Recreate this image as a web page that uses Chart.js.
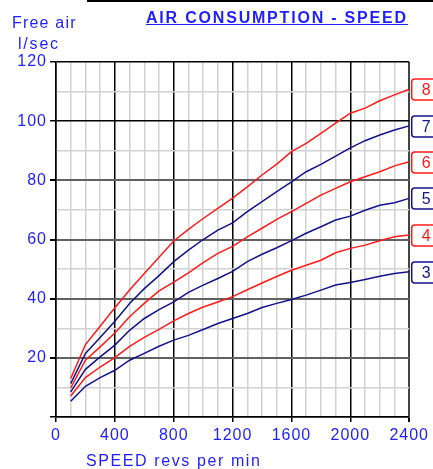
<!DOCTYPE html>
<html>
<head>
<meta charset="utf-8">
<title>Air consumption - speed</title>
<script src="https://cdn.jsdelivr.net/npm/chart.js@4"></script>
<style>
  html, body { margin: 0; padding: 0; background: #fff; }
  #wrap { position: relative; width: 433px; height: 469px; overflow: hidden; font-family: "Liberation Sans", Arial, sans-serif; }
  #wrap canvas { position: absolute; left: 0; top: 0; }
  .txt { position: absolute; color: #1e1eff; font-size: 16px; line-height: 19px; letter-spacing: 1px; white-space: nowrap; }
  .title { font-weight: bold; letter-spacing: 1.8px; text-decoration: underline; }
  .topline { position: absolute; left: 87px; top: 0; width: 346px; height: 2px; background: #000; }
</style>
</head>
<body>
<div id="wrap">
  <canvas id="airChart" width="433" height="469"></canvas>
  <div class="topline"></div>
  <div class="txt title" style="left:146px; top:8px;">AIR CONSUMPTION - SPEED</div>
  <div class="txt" style="left:12px; top:13px; letter-spacing:1.2px;">Free air</div>
  <div class="txt" style="left:18px; top:34px; letter-spacing:1.8px;">l/sec</div>
  <div class="txt" style="left:86px; top:451px; letter-spacing:1.6px;">SPEED revs per min</div>
</div>
<script>
// ── Data ──
const speeds = [100,200,300,400,500,600,700,800,900,1000,1100,1200,1300,1400,1500,1600,1700,1800,1900,2000,2100,2200,2300,2400];
const curveLabels = ['8','7','6','5','4','3'];
const curve8 = [13.0,24.5,30.7,36.9,42.9,48.5,54.0,59.5,63.4,67.1,70.5,74.0,77.8,81.8,85.5,89.7,92.5,95.9,99.3,102.7,104.4,106.9,108.9,110.8];
const curve7 = [11.3,21.5,26.9,32.4,38.4,43.4,47.8,52.5,56.4,60.0,63.2,65.6,69.4,72.8,76.2,79.5,82.9,85.4,88.2,91.0,93.4,95.3,97.0,98.4];
const curve6 = [9.8,19.2,23.7,28.4,33.9,38.4,42.6,45.6,48.7,52.2,55.3,57.7,60.9,63.8,66.8,69.4,72.2,75.0,77.3,79.5,81.2,82.9,84.9,86.3];
const curve5 = [8.5,16.1,20.3,24.3,29.3,33.3,36.3,38.9,42.1,44.6,46.8,49.2,52.5,55.0,57.2,59.6,62.1,64.3,66.6,67.9,69.9,71.6,72.4,73.9];
const curve4 = [7.1,13.3,16.9,20.1,23.9,26.9,29.6,32.5,35.0,37.2,38.9,40.7,43.0,45.3,47.5,49.6,51.3,53.0,55.5,57.0,58.1,59.6,60.9,61.5];
const curve3 = [5.3,10.4,13.3,15.8,19.2,21.5,23.9,26.0,27.6,29.6,31.6,33.3,35.0,37.0,38.4,39.7,41.2,42.9,44.6,45.5,46.5,47.6,48.5,49.1];
const xTicks = [0,400,800,1200,1600,2000,2400];
const yTicks = [20,40,60,80,100,120];

const RED = '#ff1a1a', NAVY = '#12128c', BLUE = '#1e1eff';
const curves = [curve8, curve7, curve6, curve5, curve4, curve3];
const colors = [RED, NAVY, RED, NAVY, RED, NAVY];

const toPoints = arr => arr.map((v, i) => ({ x: speeds[i], y: v }));

// letter spacing for canvas text (ticks + labels)
const spacing = {
  id: 'spacing',
  beforeUpdate(chart) { chart.ctx.letterSpacing = '1px'; },
  beforeDraw(chart) { chart.ctx.letterSpacing = '1px'; }
};

// numbered boxes at the end of each curve
const endLabels = {
  id: 'endLabels',
  afterDraw(chart) {
    const ctx = chart.ctx;
    const area = chart.chartArea;
    ctx.save();
    ctx.font = '16px "Liberation Sans", Arial, sans-serif';
    ctx.textBaseline = 'middle';
    ctx.textAlign = 'left';
    chart.data.datasets.forEach((ds, i) => {
      const meta = chart.getDatasetMeta(i);
      const last = meta.data[meta.data.length - 1];
      const x = area.right + 2.5, y = Math.round(last.y) + 0.5;
      ctx.beginPath();
      ctx.roundRect(x, y - 10.5, 30, 21, 3);
      ctx.fillStyle = '#fff';
      ctx.fill();
      ctx.lineWidth = 1.5;
      ctx.strokeStyle = ds.borderColor;
      ctx.stroke();
      ctx.fillStyle = ds.borderColor;
      ctx.fillText(ds.label, x + 10, y + 1);
    });
    ctx.restore();
  }
};

function initChart() {
  const canvas = document.getElementById('airChart');
  new Chart(canvas.getContext('2d'), {
    type: 'line',
    data: {
      datasets: curves.map((c, i) => ({
        label: curveLabels[i],
        data: toPoints(c),
        borderColor: colors[i],
        borderWidth: 1.5,
        pointRadius: 0,
        tension: 0,
        fill: false
      }))
    },
    options: {
      responsive: false,
      animation: false,
      layout: { padding: { top: 62, right: 22, left: 0, bottom: 0 } },
      plugins: { legend: { display: false }, tooltip: { enabled: false } },
      scales: {
        x: {
          type: 'linear', min: 0, max: 2400,
          afterFit: s => { s.height = 52; },
          afterBuildTicks: s => { s.ticks = [0].concat(speeds).map(v => ({ value: v })); },
          border: { color: '#000', width: 1.5 },
          grid: {
            tickLength: 5,
            color: c => c.tick.value === 2400 ? '#444' : (xTicks.includes(c.tick.value) ? '#000' : '#d2d2d2'),
            lineWidth: c => c.tick.value === 2400 ? 2 : 1.5,
            tickColor: c => xTicks.includes(c.tick.value) ? '#000' : 'rgba(0,0,0,0)'
          },
          ticks: {
            autoSkip: false, maxRotation: 0, padding: 4, color: BLUE,
            font: { family: '"Liberation Sans", Arial, sans-serif', size: 16 },
            callback: v => xTicks.includes(v) ? String(v) : ''
          }
        },
        y: {
          min: 0, max: 120,
          afterFit: s => { s.width = 56; },
          border: { color: '#000', width: 1.5 },
          grid: {
            tickLength: 6,
            color: c => {
              const v = c.tick.value;
              if (v === 100 || v === 120 || v === 0) return '#000';
              return v % 20 === 0 ? '#616161' : '#d2d2d2';
            },
            lineWidth: c => {
              const v = c.tick.value;
              return (v % 20 === 0 && v > 0 && v < 100) ? 2 : 1.5;
            },
            tickColor: c => c.tick.value % 20 === 0 ? '#000' : 'rgba(0,0,0,0)'
          },
          ticks: {
            stepSize: 10, padding: 3, color: BLUE,
            font: { family: '"Liberation Sans", Arial, sans-serif', size: 16 },
            callback: v => yTicks.includes(v) ? String(v) : ''
          }
        }
      }
    },
    plugins: [spacing, endLabels]
  });
}

document.addEventListener('DOMContentLoaded', initChart);
</script>
</body>
</html>
